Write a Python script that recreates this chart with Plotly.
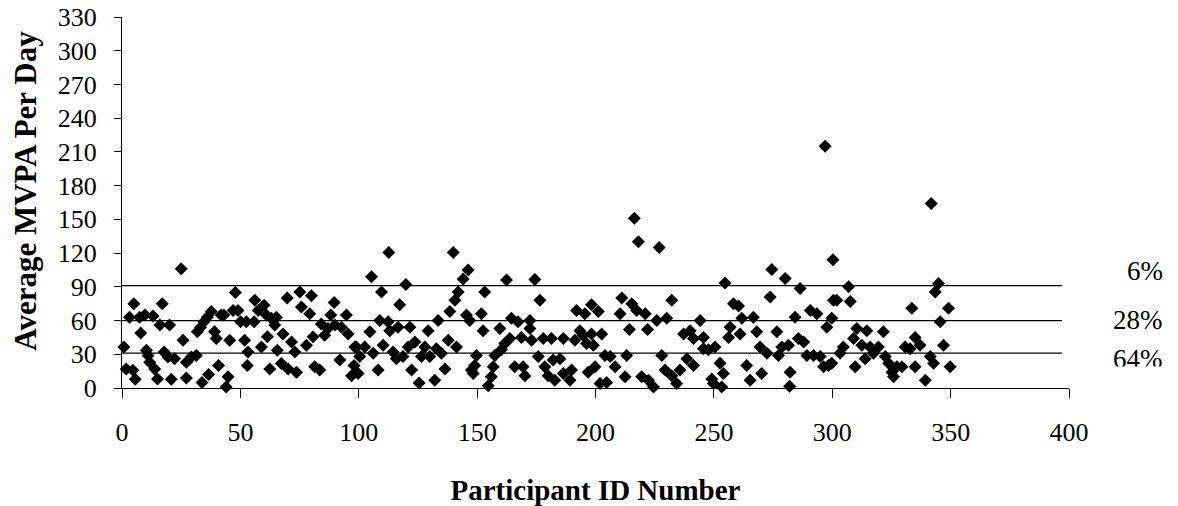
import plotly.graph_objects as go

# Participant IDs and average MVPA minutes per day
participant_id = [
    0.8, 1.8, 4.6, 5.6, 3.2, 5, 7.4, 7.9, 9.6, 10.3, 11, 11.7, 13.1, 13.8, 15, 16,
    17, 17.8, 19.4, 20.1, 20.8, 22.2, 25, 25.8, 27.2, 27.2, 29.3, 31.4, 31.8, 33.2,
    33.8, 34.6, 36, 36.6, 37.7, 39.1, 39.8, 40.8, 41.9, 43, 44.8, 44, 45.5, 47.9, 46.9,
    49, 50.1, 51.8, 52.5, 53.2, 52.9, 55.8, 56.1, 57.5, 58.9, 60, 61, 61.4, 62.4, 63.1,
    65.2, 64.5, 65.6, 67.3, 68, 69.8, 70.2, 71.6, 73, 73.7, 75.1, 75.8, 77.9, 79.3, 80,
    80.7, 81.4, 83.5, 84.2, 85.6, 87, 88.2, 89.6, 89.9, 92, 92.7, 94.8, 95.5, 98.3,
    98, 97,
    99, 100.4, 99.7, 102.5, 104.7, 105.4, 106.1, 108.2, 108.9, 109.6, 110.3, 112.4,
    112.7, 113.1, 114.5, 115.9, 116.6, 117.3, 118.7, 119.9, 120.9, 121.6, 122.3, 123.7,
    125.5, 126.5, 127.9, 129.3, 130, 132.1, 132.8, 133.5, 134.9, 136.4, 137.8, 138.5,
    139.9, 140.6, 141.3, 142, 144.1, 145.5, 146.2, 146.9, 147.6,
    149, 149.7, 148.3, 153.2, 151.8, 152.5, 154.7, 156, 156.8, 157.5, 159.6, 160.3,
    162.4, 161.7, 163.8, 164.5, 165.9, 167.3, 168.7, 169.4, 170.2, 172.3, 172.3, 173,
    174.4, 175.8, 176.5, 177.9, 178.6, 180, 181.4, 182.1, 182.8, 185, 186.4, 186.4,
    189.2, 189.9, 191.3, 192, 193.4, 194.8, 195.5, 196.2, 196.9, 198.3, 198.3,
    201.2, 199.1, 202.6, 199.8, 201.9, 204.7, 204, 206.2, 208.3, 210.4, 211.1, 212.5,
    213.2, 214.3, 215.3, 216.4, 217.4, 218.1, 219.5, 221, 222, 222.4, 224.5, 225.9,
    226.9, 228, 230.1, 229.4, 232.2, 232.2, 234.3, 235.7, 237.2, 238.6, 240, 241.4,
    241.4, 244.2, 245.6, 245.6, 247.7, 249.1,
    249.8, 250.5, 252.6, 253.3, 254, 254.7, 256.2, 256.9, 258.3, 260.4, 261.1, 261.8,
    263.9, 265.3, 266.7, 268.1, 269.5, 270.2, 272.4, 273.8, 274.5, 276.6, 277.3, 278.7,
    280.1, 281.5, 282.2, 282, 284.3, 285.7, 286.4, 287.9, 289.3, 290.7, 292.1, 293.5,
    294.9, 296.3, 297, 297.7, 298.4, 299.8, 300.3, 300.5,
    299.8, 301.9, 306.9, 307.6, 303.3, 304.7, 309.7, 309, 310.4, 312.5, 314.6, 313.9,
    316, 317.4, 319.5, 321.6, 322.4, 323.8, 325.2, 325.9, 327.3, 329.4, 330.8, 332.9,
    333.6, 335, 335, 337.1, 339.3, 341.4, 341.8, 342.8, 343.5, 344.9, 345.6, 347,
    349.1, 349.8,
]
avg_mvpa = [
    36.5, 17, 15.7, 7.7, 63, 75, 63, 49, 65, 33.5, 29, 23, 64, 17, 8, 56,
    75, 32, 27.6, 56, 7.7, 26, 106, 42.5, 9, 23, 27.6, 29, 50, 54,
    5, 59, 63, 12, 68, 50, 44, 20, 65, 65, 10, 1, 42.5, 85, 69,
    69, 59, 42.5, 59, 32, 20, 59, 78, 69, 36.5, 73.6, 65, 45.5, 17, 62,
    63, 56, 33.5, 21.7, 48, 80, 17, 41, 32, 14, 85.5, 72, 38, 66, 82,
    45.5, 19, 16, 57, 47, 53, 65, 76, 56, 25, 54, 65, 48, 36.5,
    20, 11,
    36.5, 28, 13, 36.5, 50, 99, 31, 16, 60, 85.5, 38, 59,
    120.6, 51, 32, 26, 54, 74, 28, 92, 36.5, 54, 16, 41,
    4.5, 28, 36.5, 51, 28, 7, 35, 60, 31, 17, 42.5, 68,
    120.6, 78, 36.5, 85.5, 97, 65, 105, 60, 16,
    20, 29, 13, 85.5, 66, 51, 2, 10, 19, 29, 53, 34,
    96, 39.5, 44, 62, 19, 59, 45, 19, 11, 60, 53, 42.5,
    96.5, 28, 78, 44, 19, 11, 44, 25, 7, 26, 44, 13,
    7, 16, 42.5, 69, 51, 47, 66, 39.5, 14, 74, 48,
    68, 38, 48, 19, 4, 5, 29, 28, 19, 66, 80, 10,
    29, 52, 75, 151, 69, 130, 10, 66, 52, 7, 1, 60,
    125, 29, 62, 16, 78, 11, 4, 16, 48, 26, 51, 20,
    44, 60, 45, 35, 34, 8,
    4, 36.5, 22, 1, 13, 93.5, 45, 54, 75, 73, 48, 62,
    20, 7, 63, 50, 36.5, 13, 31, 81, 105.5, 50, 29, 36.5,
    97.5, 38, 14, 1.5, 63, 44, 88.5, 41, 29, 69, 29, 66,
    28, 19, 215, 54, 20, 62, 114, 78,
    22, 78, 90, 77, 31, 36.5, 19, 44, 53, 38, 51, 26,
    36.5, 31, 36.5, 50, 28, 22, 14, 10, 19, 19, 36.5, 35,
    71, 45, 19, 38, 7, 28, 164, 22, 85.5, 93, 59, 38,
    71, 19,
]

# Cut-off lines and the share of participants in each band
band_cutoffs = [91, 60, 31]
band_labels = ["6%", "28%", "64%"]
band_label_y = [271, 320, 359]

x_ticks = [0, 50, 100, 150, 200, 250, 300, 350, 400]
y_ticks = [0, 30, 60, 90, 120, 150, 180, 210, 240, 270, 300, 330]

FONT = "Liberation Serif"

# plot-area pixel geometry used to place free-floating text
X_LEFT, X_RIGHT = 122.4, 1068.6
Y_BOTTOM, Y_TOP = 387.7, 17.0


def px_to_paper(px, py):
    return (px - X_LEFT) / (X_RIGHT - X_LEFT), (Y_BOTTOM - py) / (Y_BOTTOM - Y_TOP)


fig = go.Figure()
fig.add_trace(go.Scatter(
    x=participant_id, y=avg_mvpa, mode="markers",
    marker=dict(symbol="diamond", size=10, color="black", line=dict(width=0)),
    showlegend=False, cliponaxis=False,
))

for c in band_cutoffs:
    fig.add_shape(type="line", xref="x", yref="y", x0=0, x1=397, y0=c, y1=c,
                  line=dict(color="black", width=1.3), layer="below")

for lab, py in zip(band_labels, band_label_y):
    ax, ay = px_to_paper(1165, py)
    fig.add_annotation(text=lab, xref="paper", yref="paper", x=ax, y=ay,
                       xanchor="right", yanchor="middle", showarrow=False,
                       font=dict(family=FONT, size=27, color="black"))

# the lowest band label sits in a text box whose bottom edge trims it
mx, my = px_to_paper(1090, 365.5)
fig.add_annotation(text=" ", xref="paper", yref="paper", x=mx, y=my,
                   xanchor="left", yanchor="top", showarrow=False,
                   width=85, height=14, bgcolor="white", borderpad=0,
                   font=dict(size=6))

# vertical axis title, centred slightly above the middle of the axis
tx, ty = px_to_paper(26, 191)
fig.add_annotation(text="<b>Average MVPA Per Day</b>", xref="paper", yref="paper",
                   x=tx, y=ty, xanchor="center", yanchor="middle",
                   textangle=-90, showarrow=False,
                   font=dict(family=FONT, size=31, color="black"))

fig.update_layout(
    width=1178, height=506,
    margin=dict(l=122, r=109, t=17, b=118, autoexpand=False),
    paper_bgcolor="white", plot_bgcolor="white",
    font=dict(family=FONT, size=26, color="black"),
    xaxis=dict(
        range=[0, 400], tickvals=x_ticks, showgrid=False, zeroline=False,
        automargin=False,
        showline=True, linecolor="black", linewidth=1.3,
        ticks="outside", ticklen=9, tickcolor="black", tickwidth=1.3,
        ticklabelstandoff=12,
        title=dict(text="<b>Participant ID Number</b>", standoff=36,
                   font=dict(family=FONT, size=29)),
    ),
    yaxis=dict(
        range=[0, 330], tickvals=y_ticks, showgrid=False, zeroline=False,
        automargin=False,
        showline=True, linecolor="black", linewidth=1.3,
        ticks="outside", ticklen=7, tickcolor="black", tickwidth=1.3,
        ticklabelstandoff=12,
    ),
)

fig.write_html("out.html")
